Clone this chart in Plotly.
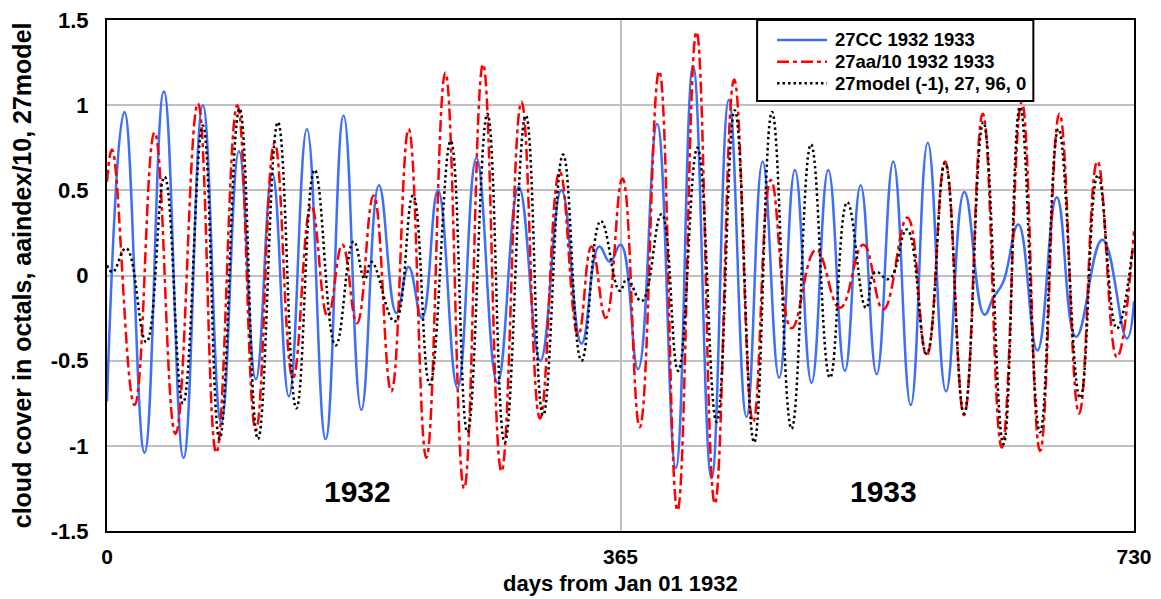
import plotly.graph_objects as go

# 27-day filtered series, 1932-1933 (turning points, days from Jan 01 1932)
cc_day = [0, 12.4, 26.7, 40.4, 54.4, 68.1, 81.2, 93.8, 105.8, 117.5, 129.3, 142.1,
          155.4, 168.2, 180.8, 193.3, 205.7, 214.4, 223.9, 235.3, 249.1, 262.6,
          277.5, 292.7, 308.0, 323.0, 337.3, 349.8, 357.4, 365.2, 377.5, 391.0,
          404.3, 416.6, 429.7, 442.0, 454.6, 466.0, 477.8, 489.0, 500.8, 512.7,
          524.5, 535.7, 547.1, 558.9, 571.3, 583.4, 596.4, 609.4, 623.6, 630.0,
          637.0, 647.8, 661.3, 675.1, 688.8, 707.5, 724.9, 730]
cc_val = [-0.74, 0.96, -1.04, 1.08, -1.07, 1.00, -0.865, 0.73, -0.61, 0.60, -0.71, 0.86,
          -0.96, 0.94, -0.79, 0.53, -0.22, 0.05, -0.25, 0.50, -0.66, 0.69,
          -0.63, 0.52, -0.50, 0.50, -0.40, 0.17, 0.08, 0.18, -0.55, 0.89,
          -1.13, 1.23, -1.19, 1.03, -0.83, 0.67, -0.60, 0.62, -0.63, 0.62,
          -0.56, 0.53, -0.58, 0.67, -0.76, 0.78, -0.68, 0.49, -0.23, -0.13,
          -0.04, 0.30, -0.44, 0.46, -0.36, 0.21, -0.37, -0.15]

aa_day = [0, 3.6, 19.6, 33.8, 48.7, 64.6, 77.7, 92.6, 105.8, 119.1, 132.2, 145.2,
          156.9, 167.3, 177.7, 189.5, 202.1, 214.4, 227.0, 240.5, 253.8, 267.3,
          280.4, 294.6, 307.8, 321.8, 334.9, 344.4, 354.6, 366.4, 378.7, 392.5,
          405.5, 419.0, 432.1, 445.8, 459.3, 471.9, 486.6, 504.0, 521.0, 537.6,
          551.8, 568.9, 582.6, 595.7, 609.2, 622.5, 636.0, 650.2, 663.2, 677.0,
          691.0, 704.0, 717.8, 730]
aa_val = [0.55, 0.74, -0.76, 0.84, -0.93, 1.01, -1.04, 1.00, -0.91, 0.78, -0.60, 0.41,
          -0.24, 0.18, -0.28, 0.47, -0.68, 0.86, -1.07, 1.19, -1.25, 1.24,
          -1.15, 1.02, -0.84, 0.61, -0.35, 0.17, -0.25, 0.57, -0.89, 1.20,
          -1.38, 1.43, -1.34, 1.15, -0.86, 0.56, -0.31, 0.15, -0.19, 0.18,
          -0.20, 0.34, -0.47, 0.67, -0.82, 0.95, -1.01, 1.02, -1.03, 0.95,
          -0.81, 0.67, -0.48, 0.26]

model_day = [0, 4, 13.6, 27.9, 40.9, 54.0, 68.1, 80.0, 94.2, 107.3, 121.5, 134.6,
             147.6, 162.5, 175.3, 183.2, 188.0, 204.5, 217.5, 229.4, 244.3, 256.2,
             270.4, 282.7, 297.7, 310.0, 324.2, 337.3, 351.0, 364.5, 369.7, 380.0,
             394.2, 406.0, 419.7, 433.3, 446.2, 460.0, 472.7, 486.6, 500.4, 513.9,
             526.2, 539.5, 546.0, 556.0, 568.6, 582.6, 595.7, 609.2, 622.9, 637.2,
             649.0, 663.2, 676.3, 691.7, 704.3, 717.8, 729]
model_val = [0.06, 0.02, 0.16, -0.39, 0.58, -0.75, 0.88, -0.96, 0.98, -0.96, 0.90, -0.78,
             0.62, -0.41, 0.20, -0.02, 0.08, -0.27, 0.47, -0.64, 0.79, -0.92,
             0.95, -0.98, 0.94, -0.82, 0.71, -0.50, 0.32, -0.09, -0.02, -0.15,
             0.36, -0.56, 0.75, -0.86, 0.97, -0.98, 0.96, -0.90, 0.77, -0.60,
             0.43, -0.19, 0.02, -0.02, 0.27, -0.46, 0.66, -0.81, 0.90, -0.99,
             0.99, -0.92, 0.86, -0.72, 0.59, -0.31, 0.16]

series_names = ["27CC 1932 1933", "27aa/10 1932 1933", "27model (-1), 27, 96, 0"]

x_ticks = [0, 365, 730]
y_ticks = [-1.5, -1, -0.5, 0, 0.5, 1, 1.5]
y_tick_text = ["-1.5", "-1", "-0.5", "0", "0.5", "1", "1.5"]
x_title = "days from Jan 01 1932"
y_title = "cloud cover in octals, aaindex/10, 27model"

FONT = "Liberation Sans, Arial, sans-serif"
styles = [
    dict(color="#3F6FF5", width=2.5),
    dict(color="#FF0000", width=2.5, dash="12px,4px,4px,4px"),
    dict(color="#000000", width=2.5, dash="2.5px,3px"),
]

fig = go.Figure()
for xs, ys, name, st in zip([cc_day, aa_day, model_day],
                            [cc_val, aa_val, model_val], series_names, styles):
    fig.add_trace(go.Scatter(
        x=xs, y=ys, mode="lines", name=name, showlegend=False,
        line=dict(shape="spline", smoothing=1.3, **st)))

# year labels inside the plot
fig.add_annotation(x=177.8, y=-1.27, text="1932", showarrow=False,
                   font=dict(family=FONT, size=30, color="black", weight="bold"))
fig.add_annotation(x=551.9, y=-1.27, text="1933", showarrow=False,
                   font=dict(family=FONT, size=30, color="black", weight="bold"))

# axis titles
fig.add_annotation(xref="paper", yref="paper", x=0.5, y=-0.102,
                   xanchor="center", yanchor="middle", text=x_title, showarrow=False,
                   font=dict(family=FONT, size=22, color="black", weight="bold"))
fig.add_annotation(xref="paper", yref="paper", x=-0.083, y=0.5, textangle=-90,
                   xanchor="center", yanchor="middle", text=y_title, showarrow=False,
                   font=dict(family=FONT, size=25, color="black", weight="bold"))

# boxed legend in the upper right of the plot
leg_x0, leg_x1, leg_y0, leg_y1 = 0.633, 0.902, 0.8415, 1.0
fig.add_shape(type="rect", xref="paper", yref="paper",
              x0=leg_x0, x1=leg_x1, y0=leg_y0, y1=leg_y1,
              line=dict(color="black", width=2), fillcolor="white", layer="above")
row_y = [0.961, 0.9184, 0.8761]
for ry, name, st in zip(row_y, series_names, styles):
    fig.add_shape(type="line", xref="paper", yref="paper",
                  x0=0.6524, x1=0.7011, y0=ry, y1=ry,
                  line=st, layer="above")
    fig.add_annotation(xref="paper", yref="paper", x=0.7069, y=ry,
                       xanchor="left", yanchor="middle", text=name, showarrow=False,
                       font=dict(family=FONT, size=18.5, color="black", weight="bold"))

fig.update_layout(
    width=1161, height=599,
    margin=dict(l=107, r=27, t=20, b=68),
    paper_bgcolor="white", plot_bgcolor="white",
    font=dict(family=FONT, color="black"),
    showlegend=False,
)
fig.update_xaxes(
    range=[0, 730], tickvals=x_ticks, ticktext=[str(v) for v in x_ticks],
    showgrid=True, gridcolor="#C0C0C0", gridwidth=1.5, zeroline=False,
    showline=True, linecolor="black", linewidth=2, mirror=True,
    ticks="", ticklabelstandoff=6, automargin=False,
    tickfont=dict(family=FONT, size=21, color="black", weight="bold"),
)
fig.update_yaxes(
    range=[-1.5, 1.5], tickvals=y_ticks, ticktext=y_tick_text,
    showgrid=True, gridcolor="#C0C0C0", gridwidth=1.5, zeroline=False,
    showline=True, linecolor="black", linewidth=2, mirror=True,
    ticks="", ticklabelstandoff=12, automargin=False,
    tickfont=dict(family=FONT, size=22, color="black", weight="bold"),
)

fig.write_html("out.html")
